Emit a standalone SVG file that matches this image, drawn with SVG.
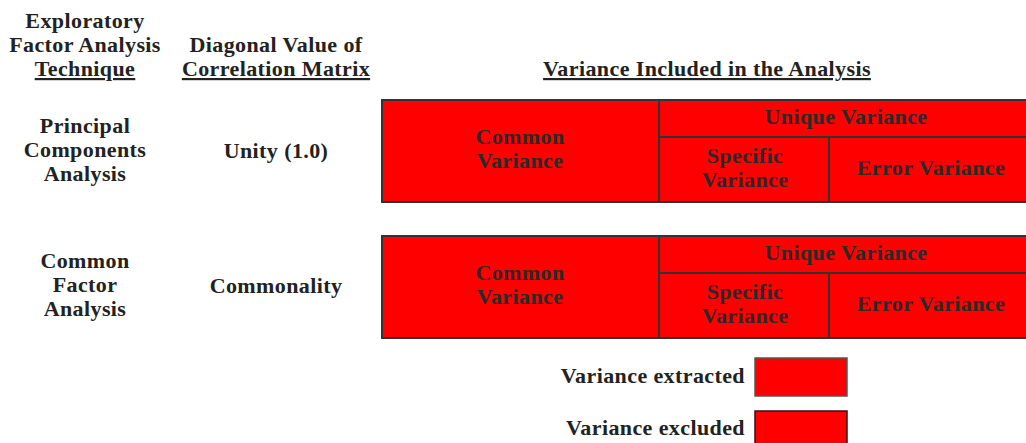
<svg xmlns="http://www.w3.org/2000/svg" width="1026" height="443" viewBox="0 0 1026 443">
<style>
text{font-family:"Liberation Serif","Times New Roman",serif;font-weight:bold;font-size:22px;letter-spacing:0.4px;fill:#222;text-anchor:middle}
.u{text-decoration:underline}
.b{fill:#ff0000;stroke:#333;stroke-width:2}
.l{stroke:#333;stroke-width:2;fill:none}
.in{fill:#2a2a2a}
.r{text-anchor:end}
</style>
<rect width="1026" height="443" fill="#fff"/>
<g id="headers">
<text x="85" y="28">Exploratory</text>
<text x="85" y="52">Factor Analysis</text>
<text x="85" y="76" class="u">Technique</text>
<text x="276" y="52">Diagonal Value of</text>
<text x="276" y="76" class="u">Correlation Matrix</text>
<text x="707" y="76" class="u">Variance Included in the Analysis</text>
</g>
<g id="row-pca">
<text x="85" y="133">Principal</text>
<text x="85" y="157">Components</text>
<text x="85" y="181">Analysis</text>
<text x="276" y="158">Unity (1.0)</text>
</g>
<g id="row-cfa">
<text x="85" y="268">Common</text>
<text x="85" y="292">Factor</text>
<text x="85" y="316">Analysis</text>
<text x="276" y="293">Commonality</text>
</g>
<g id="box-pca">
<rect class="b" x="382" y="100" width="650" height="102"/>
<line class="l" x1="659" y1="100" x2="659" y2="202"/>
<line class="l" x1="659" y1="137" x2="1032" y2="137"/>
<line class="l" x1="829" y1="137" x2="829" y2="202"/>
<text class="in" x="520" y="144">Common</text>
<text class="in" x="520" y="168">Variance</text>
<text class="in" x="846" y="124">Unique Variance</text>
<text class="in" x="745" y="163">Specific</text>
<text class="in" x="745" y="187">Variance</text>
<text class="in" x="931" y="175">Error Variance</text>
</g>
<g id="box-cfa">
<rect class="b" x="382" y="236" width="650" height="102"/>
<line class="l" x1="659" y1="236" x2="659" y2="338"/>
<line class="l" x1="659" y1="273" x2="1032" y2="273"/>
<line class="l" x1="829" y1="273" x2="829" y2="338"/>
<text class="in" x="520" y="280">Common</text>
<text class="in" x="520" y="304">Variance</text>
<text class="in" x="846" y="260">Unique Variance</text>
<text class="in" x="745" y="299">Specific</text>
<text class="in" x="745" y="323">Variance</text>
<text class="in" x="931" y="311">Error Variance</text>
</g>
<g id="legend">
<text class="r" x="745" y="383">Variance extracted</text>
<rect x="755" y="358" width="92" height="38" fill="#ff0000" stroke="#555" stroke-width="1.5"/>
<text class="r" x="745" y="435">Variance excluded</text>
<rect x="755" y="411" width="92" height="38" fill="#ff0000" stroke="#3a1010" stroke-width="1.5"/>
</g>
<g id="connectors"></g>
</svg>
